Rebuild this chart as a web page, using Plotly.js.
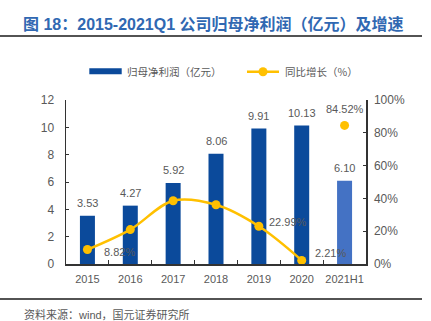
<!DOCTYPE html>
<html>
<head>
<meta charset="utf-8">
<script src="https://cdn.plot.ly/plotly-3.0.1.min.js"></script>
<style>html,body{margin:0;padding:0;background:#fff;}</style>
</head>
<body>
<div id="chart" style="width:431px;height:321px;"></div>
<script>
const categories = ['2015', '2016', '2017', '2018', '2019', '2020', '2021H1'];
const profit = [3.53, 4.27, 5.92, 8.06, 9.91, 10.13, 6.10];
const growth = [8.82, 21.0, 38.6, 36.1, 22.99, 2.21, 84.52];
const growthLabels = ['8.82%', '', '', '', '22.99%', '2.21%', '84.52%'];
const barColors = ['#0b4a9b', '#0b4a9b', '#0b4a9b', '#0b4a9b', '#0b4a9b', '#0b4a9b', '#4472c4'];

const FONT = 'Liberation Sans, Arial, Noto Sans CJK SC, sans-serif';
const CJK = 'Noto Sans CJK SC, sans-serif';
const GRAY = '#595959';

const traces = [
  {
    type: 'bar', x: categories, y: profit, width: 0.35,
    marker: {color: barColors}, yaxis: 'y', showlegend: false, hoverinfo: 'skip'
  },
  {
    type: 'scatter', mode: 'lines+markers', x: categories.slice(0, 6), y: growth.slice(0, 6),
    yaxis: 'y2', line: {color: '#FFC000', width: 2.5, shape: 'spline', smoothing: 1},
    marker: {color: '#FFC000', size: 9}, showlegend: false, hoverinfo: 'skip'
  },
  {
    type: 'scatter', mode: 'markers', x: categories.slice(6), y: growth.slice(6),
    yaxis: 'y2', marker: {color: '#FFC000', size: 9}, showlegend: false, hoverinfo: 'skip'
  }
];

const annotations = [];
profit.forEach((v, i) => {
  annotations.push({
    x: i, y: v, xref: 'x', yref: 'y', text: v.toFixed(2),
    showarrow: false, yanchor: 'middle', yshift: 13,
    font: {family: FONT, size: 11, color: GRAY}
  });
});
const gOffsets = {0: [15, -2, 'left'], 4: [8, 4, 'left'], 5: [11, 7, 'left'], 6: [0, 16, 'center']};
growth.forEach((v, i) => {
  if (!growthLabels[i]) return;
  const o = gOffsets[i];
  annotations.push({
    x: i, y: v, xref: 'x', yref: 'y2', text: growthLabels[i],
    showarrow: false, xanchor: o[2], yanchor: 'middle', xshift: o[0], yshift: o[1],
    font: {family: FONT, size: 11, color: GRAY}
  });
});
// title
annotations.push({
  xref: 'paper', yref: 'paper', x: 0.49, y: 1.465, xanchor: 'center', yanchor: 'middle',
  text: '<b>图 18：2015-2021Q1 公司归母净利润（亿元）及增速</b>', showarrow: false,
  font: {family: FONT, size: 16, color: '#3068b2'}
});
// source
annotations.push({
  xref: 'paper', yref: 'paper', x: -0.1467, y: -0.305, xanchor: 'left', yanchor: 'middle',
  text: '资料来源：wind，国元证券研究所', showarrow: false,
  font: {family: FONT, size: 11, color: GRAY}
});
// legend texts
annotations.push({
  xref: 'paper', yref: 'paper', x: 0.1967, y: 1.1726, xanchor: 'left', yanchor: 'middle',
  text: '归母净利润（亿元）', showarrow: false, font: {family: CJK, size: 10.5, color: GRAY}
});
annotations.push({
  xref: 'paper', yref: 'paper', x: 0.7233, y: 1.1726, xanchor: 'left', yanchor: 'middle',
  text: '同比增长（%）', showarrow: false, font: {family: CJK, size: 10.5, color: GRAY}
});

const shapes = [
  {type: 'line', xref: 'paper', yref: 'paper', x0: -0.22, x1: 1.1867, y0: 1.39, y1: 1.39,
   line: {color: '#1a1a1a', width: 1.5}},
  {type: 'line', xref: 'paper', yref: 'paper', x0: -0.22, x1: 1.1867, y0: -0.2134, y1: -0.2134,
   line: {color: '#1a1a1a', width: 1.5}},
  {type: 'rect', xref: 'paper', yref: 'paper', x0: 0.0777, x1: 0.1857, y0: 1.1567, y1: 1.1933,
   fillcolor: '#0b4a9b', line: {width: 0}},
  {type: 'line', xref: 'paper', yref: 'paper', x0: 0.6033, x1: 0.71, y0: 1.1726, y1: 1.1726,
   line: {color: '#FFC000', width: 2.5}},
  {type: 'circle', xref: 'paper', yref: 'paper', xsizemode: 'pixel', ysizemode: 'pixel',
   xanchor: 0.6567, yanchor: 1.1726, x0: -4.5, x1: 4.5, y0: -4.5, y1: 4.5,
   fillcolor: '#FFC000', line: {width: 0}}
];

const layout = {
  width: 431, height: 321, autosize: false,
  margin: {l: 66, r: 65, t: 100, b: 57, pad: 0},
  paper_bgcolor: '#ffffff', plot_bgcolor: '#ffffff',
  font: {family: FONT, color: GRAY},
  showlegend: false,
  xaxis: {
    type: 'category', range: [-0.5, 6.5], showline: true, linecolor: '#333333', linewidth: 1.5,
    ticks: 'inside', tickson: 'boundaries', ticklen: 4, tickcolor: '#333333', tickangle: 0,
    showgrid: false, zeroline: false, tickfont: {family: FONT, size: 11, color: GRAY},
    ticklabelstandoff: 4, fixedrange: true
  },
  yaxis: {
    range: [0, 12], dtick: 2, showline: true, linecolor: '#333333', linewidth: 1.5,
    ticks: 'inside', ticklen: 3, tickcolor: '#333333', showgrid: false, zeroline: false,
    tickfont: {family: FONT, size: 12, color: GRAY}, ticklabelstandoff: 8, fixedrange: true
  },
  yaxis2: {
    overlaying: 'y', side: 'right', range: [0, 100], dtick: 20, ticksuffix: '%',
    showline: true, linecolor: '#333333', linewidth: 1.5, ticks: 'inside', ticklen: 3,
    tickcolor: '#333333', showgrid: false, zeroline: false,
    tickfont: {family: FONT, size: 12, color: GRAY}, ticklabelstandoff: 4, fixedrange: true
  },
  annotations: annotations,
  shapes: shapes
};

Plotly.newPlot('chart', traces, layout, {staticPlot: true, displayModeBar: false});
</script>
</body>
</html>
